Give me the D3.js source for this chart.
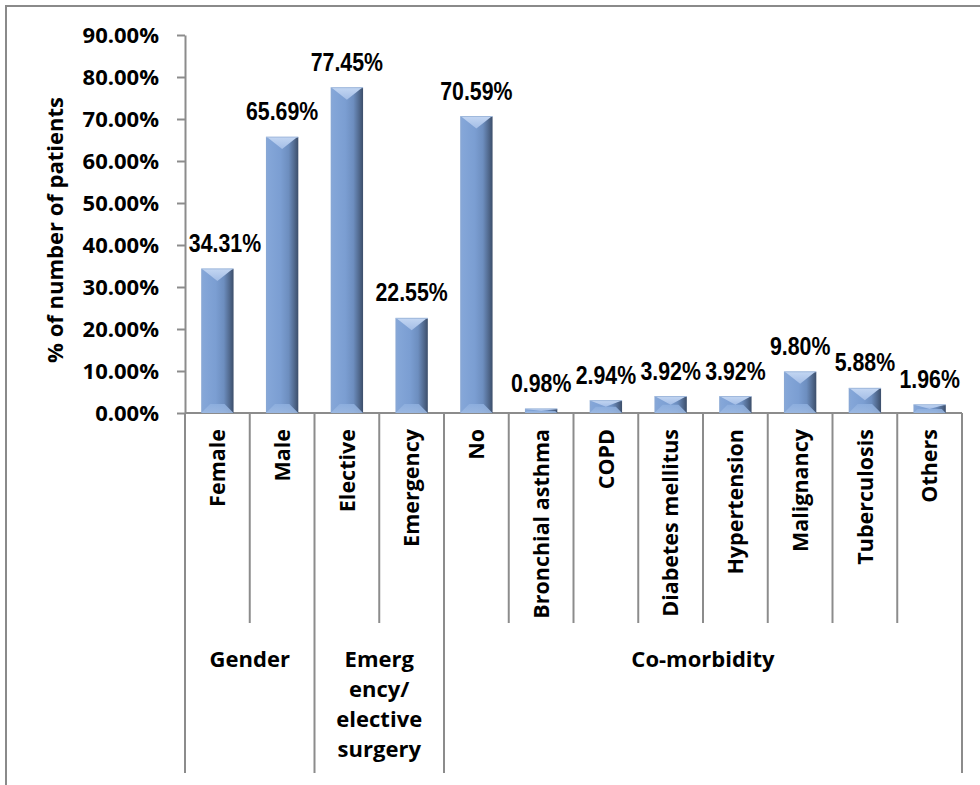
<!DOCTYPE html>
<html>
<head>
<meta charset="utf-8">
<script src="https://cdn.jsdelivr.net/npm/d3@7"></script>
<style>
  html, body { margin: 0; padding: 0; background: #fff; }
  svg { display: block; }
  text { fill: #000; }
</style>
</head>
<body>
<svg id="chart" width="980" height="785"></svg>
<script>
// Patient characteristics: share of patients per category
const categories = ["Female", "Male", "Elective", "Emergency", "No",
  "Bronchial asthma", "COPD", "Diabetes mellitus", "Hypertension",
  "Malignancy", "Tuberculosis", "Others"];
const values = [34.31, 65.69, 77.45, 22.55, 70.59, 0.98, 2.94, 3.92, 3.92, 9.80, 5.88, 1.96];
const groupNames = [["Gender"], ["Emerg", "ency/", "elective", "surgery"], ["Co-morbidity"]];
const groupSizes = [2, 2, 8];
const yTicks = [0, 10, 20, 30, 40, 50, 60, 70, 80, 90];
const yTitle = "% of number of patients";

const svg = d3.select("#chart");
const W = 980, H = 785;
const plotLeft = 185, plotRight = 962, plotTop = 35, plotBase = 413;
const innerDrop = 623, groupDrop = 773;
const axisColor = "#8c8c8c";
const uiFont = "'Open Sans', Lato, sans-serif";

// pick a condensed face for the value labels when one is installed
function hasFont(name) {
  const c = document.createElement("canvas").getContext("2d");
  c.font = "bold 40px monospace";
  const w0 = c.measureText("0123456789%abc").width;
  c.font = `bold 40px '${name}', monospace`;
  return Math.abs(c.measureText("0123456789%abc").width - w0) > 0.5;
}
const narrow = hasFont("Liberation Sans Narrow");
const valueFont = narrow ? "'Liberation Sans Narrow', 'Arial Narrow', sans-serif" : "'Liberation Sans', Arial, sans-serif";
const valueScaleX = narrow ? 1 : 0.82;

// outer frame
svg.append("path")
  .attr("d", `M6,${H} L6,6 L${W},6`)
  .attr("fill", "none").attr("stroke", "#8a8a8a").attr("stroke-width", 2);

const x = d3.scaleBand().domain(categories).range([plotLeft, plotRight]).padding(0);
const y = d3.scaleLinear().domain([0, 90]).range([plotBase, plotTop]);

// bar gradients
const defs = svg.append("defs");
const body = defs.append("linearGradient").attr("id", "barBody").attr("x1", 0).attr("x2", 1).attr("y1", 0).attr("y2", 0);
[[0, "#8aa8d4"], [0.08, "#84a6d8"], [0.45, "#7b9ed2"], [0.7, "#6d8ebf"], [0.86, "#546d93"], [1, "#3c4e6a"]]
  .forEach(([o, c]) => body.append("stop").attr("offset", o).attr("stop-color", c));
const cap = defs.append("linearGradient").attr("id", "barCap").attr("x1", 0).attr("x2", 0).attr("y1", 0).attr("y2", 1);
[[0, "#c3d6f2"], [1, "#a3bde6"]].forEach(([o, c]) => cap.append("stop").attr("offset", o).attr("stop-color", c));
const foot = defs.append("linearGradient").attr("id", "barFoot").attr("x1", 0).attr("x2", 0).attr("y1", 0).attr("y2", 1);
[[0, "#8fb0df"], [1, "#9fbbe3"]].forEach(([o, c]) => foot.append("stop").attr("offset", o).attr("stop-color", c));

// y axis
const yAxis = svg.append("g").attr("transform", `translate(${plotLeft},0)`)
  .call(d3.axisLeft(y).tickValues(yTicks).tickSize(8).tickSizeOuter(0).tickPadding(18)
    .tickFormat(d => d.toFixed(2) + "%"));
yAxis.select(".domain").attr("stroke", axisColor).attr("stroke-width", 2);
yAxis.selectAll(".tick line").attr("stroke", axisColor).attr("stroke-width", 2);
yAxis.selectAll(".tick text").attr("font-family", uiFont).attr("font-weight", 700)
  .attr("font-size", 22).attr("fill", "#000");

svg.append("text")
  .attr("transform", `translate(63,${(plotTop + plotBase) / 2 + 6}) rotate(-90)`)
  .attr("text-anchor", "middle")
  .attr("font-family", uiFont).attr("font-weight", 700).attr("font-size", 22)
  .text(yTitle);

// category baseline and dividers
svg.append("line").attr("x1", plotLeft).attr("x2", plotRight).attr("y1", plotBase).attr("y2", plotBase)
  .attr("stroke", axisColor).attr("stroke-width", 2);

const groupEdges = [0];
groupSizes.forEach(n => groupEdges.push(groupEdges[groupEdges.length - 1] + n));
const edges = d3.range(categories.length + 1);
svg.append("g").selectAll("line").data(edges).join("line")
  .attr("x1", i => plotLeft + i * x.step()).attr("x2", i => plotLeft + i * x.step())
  .attr("y1", plotBase).attr("y2", i => groupEdges.includes(i) ? groupDrop : innerDrop)
  .attr("stroke", axisColor).attr("stroke-width", 2);

// bars
const bw = x.bandwidth() * 0.5;
const bars = svg.append("g").selectAll("g").data(values).join("g")
  .attr("transform", (d, i) => `translate(${x(categories[i]) + (x.bandwidth() - bw) / 2},0)`);
bars.append("rect")
  .attr("x", 0).attr("width", bw)
  .attr("y", d => y(d)).attr("height", d => plotBase - y(d))
  .attr("fill", "url(#barBody)");
bars.append("path")
  .attr("d", d => {
    const t = y(d), h = plotBase - t, b = Math.min(9, h / 2);
    return `M0,${plotBase} L${bw},${plotBase} L${bw - b},${plotBase - b} L${b},${plotBase - b} Z`;
  })
  .attr("fill", "url(#barFoot)").attr("opacity", 0.85);
bars.append("path")
  .attr("d", d => {
    const t = y(d), h = plotBase - t, b = Math.min(12, h / 2);
    return `M1,${t} L${bw - 1},${t} L${bw / 2},${t + b} Z`;
  })
  .attr("fill", "url(#barCap)");
bars.append("line")
  .attr("x1", 0).attr("x2", bw).attr("y1", d => y(d)).attr("y2", d => y(d))
  .attr("stroke", "#9fb8dc").attr("stroke-width", 1);

// value labels
svg.append("g").selectAll("text").data(values).join("text")
  .attr("transform", (d, i) => {
    const cx = Math.max(x(categories[i]) + x.bandwidth() / 2, plotLeft + 40);
    return `translate(${cx},${y(d) - 17}) scale(${valueScaleX},1)`;
  })
  .attr("text-anchor", "middle")
  .attr("font-family", valueFont).attr("font-weight", 700).attr("font-size", 26)
  .text(d => d.toFixed(2) + "%");

// category labels
svg.append("g").selectAll("text").data(categories).join("text")
  .attr("transform", d => `translate(${x(d) + x.bandwidth() / 2},429) rotate(-90)`)
  .attr("text-anchor", "end").attr("dy", "0.36em")
  .attr("font-family", uiFont).attr("font-weight", 700).attr("font-size", 21.5)
  .text(d => d);

// group labels
groupNames.forEach((lines, gi) => {
  const cx = plotLeft + (groupEdges[gi] + groupEdges[gi + 1]) / 2 * x.step();
  const t = svg.append("text").attr("text-anchor", "middle")
    .attr("font-family", uiFont).attr("font-weight", 700).attr("font-size", 22);
  lines.forEach((s, li) => t.append("tspan").attr("x", cx).attr("y", 667 + li * 30).text(s));
});
</script>
</body>
</html>
